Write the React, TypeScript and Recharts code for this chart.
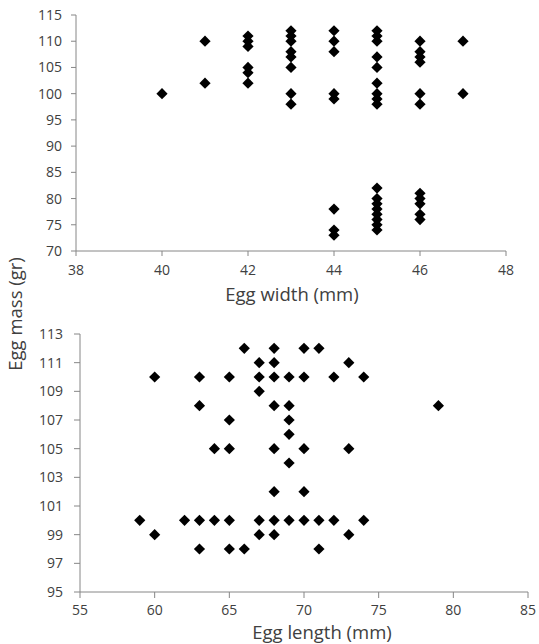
import React from 'react';
import { ScatterChart, Scatter, XAxis, YAxis, Label } from 'recharts';

// Top panel: egg width (mm) vs egg mass (gr)
const eggWidths = [40, 41, 42, 43, 44, 45, 46, 47];
const massByWidth = [
  [100],
  [110, 102],
  [111, 110, 109, 105, 104, 102],
  [112, 111, 110, 108, 107, 105, 100, 98],
  [112, 110, 108, 100, 99, 78, 74, 73],
  [112, 111, 110, 107, 105, 102, 100, 99, 98, 82, 80, 79, 78, 77, 76, 75, 74],
  [110, 108, 107, 106, 100, 98, 81, 80, 79, 77, 76],
  [110, 100],
];
const widthTicks = [38, 40, 42, 44, 46, 48];
const massTicksTop = [70, 75, 80, 85, 90, 95, 100, 105, 110, 115];

// Bottom panel: egg length (mm) vs egg mass (gr)
const eggLengths = [59, 60, 62, 63, 64, 65, 66, 67, 68, 69, 70, 71, 72, 73, 74, 79];
const massByLength = [
  [100],
  [110, 99],
  [100],
  [110, 108, 100, 98],
  [105, 100],
  [110, 107, 105, 100, 98],
  [112, 98],
  [111, 110, 109, 100, 99],
  [112, 111, 110, 108, 105, 102, 100, 99],
  [110, 108, 107, 106, 104, 100],
  [112, 110, 105, 102, 100],
  [112, 100, 98],
  [110, 100],
  [111, 105, 99],
  [110, 100],
  [108],
];
const lengthTicks = [55, 60, 65, 70, 75, 80, 85];
const massTicksBottom = [95, 97, 99, 101, 103, 105, 107, 109, 111, 113];

const widthTitle = 'Egg width (mm)';
const lengthTitle = 'Egg length (mm)';
const massTitle = 'Egg mass (gr)';

const toPoints = (xs: number[], ys: number[][]) =>
  xs.flatMap((x, i) => ys[i].map((y) => ({ x, y })));

const topData = toPoints(eggWidths, massByWidth);
const bottomData = toPoints(eggLengths, massByLength);

const FONT = '"Open Sans", "Liberation Sans", sans-serif';
const AXIS = '#868686';
const TEXT = '#404040';

const Diamond = (props: any) => {
  const { cx, cy } = props;
  const r = 5.6;
  return (
    <polygon
      points={`${cx},${cy - r} ${cx + r},${cy} ${cx},${cy + r} ${cx - r},${cy}`}
      fill="#000"
    />
  );
};

const tickStyle = { fontSize: 14, fill: TEXT, fontFamily: FONT };

const xTitle = (text: string, dx: number, dy: number) => (props: any) => {
  const vb = props.viewBox;
  return (
    <text
      x={vb.x + vb.width / 2 + dx}
      y={vb.y + dy}
      textAnchor="middle"
      fontSize={18.5}
      fontFamily={FONT}
      fill={TEXT}
    >
      {text}
    </text>
  );
};

export default function App() {
  return (
    <div style={{ position: 'absolute', left: 0, top: 0, width: 539, height: 644, background: '#fff' }}>
      <div style={{ position: 'absolute', left: 0, top: 0 }}>
        <ScatterChart width={539} height={310} margin={{ top: 15, right: 33, bottom: 0, left: 0 }}>
          <XAxis
            type="number"
            dataKey="x"
            domain={[38, 48]}
            ticks={widthTicks}
            interval={0}
            height={59}
            tickSize={5}
            tickMargin={9}
            stroke={AXIS}
            tick={tickStyle}
          >
            <Label content={xTitle(widthTitle, 1, 50)} />
          </XAxis>
          <YAxis
            type="number"
            dataKey="y"
            domain={[70, 115]}
            ticks={massTicksTop}
            interval={0}
            width={76}
            tickSize={5}
            tickMargin={9}
            stroke={AXIS}
            tick={tickStyle}
          />
          <Scatter data={topData} shape={Diamond} isAnimationActive={false} />
        </ScatterChart>
      </div>
      <div style={{ position: 'absolute', left: 0, top: 320 }}>
        <ScatterChart width={539} height={324} margin={{ top: 14, right: 11, bottom: 0, left: 0 }}>
          <XAxis
            type="number"
            dataKey="x"
            domain={[55, 85]}
            ticks={lengthTicks}
            interval={0}
            height={52}
            tickSize={6}
            tickMargin={7}
            stroke={AXIS}
            tick={tickStyle}
          >
            <Label content={xTitle(lengthTitle, 18, 47)} />
          </XAxis>
          <YAxis
            type="number"
            dataKey="y"
            domain={[95, 113]}
            ticks={massTicksBottom}
            interval={0}
            width={80}
            tickSize={6}
            tickMargin={11}
            stroke={AXIS}
            tick={tickStyle}
          />
          <Scatter data={bottomData} shape={Diamond} isAnimationActive={false} />
        </ScatterChart>
      </div>
      <svg style={{ position: 'absolute', left: 0, top: 0 }} width={34} height={644}>
        <text
          transform="translate(22,314) rotate(-90)"
          textAnchor="middle"
          fontSize={18.5}
          fontFamily={FONT}
          fill={TEXT}
        >
          {massTitle}
        </text>
      </svg>
    </div>
  );
}
